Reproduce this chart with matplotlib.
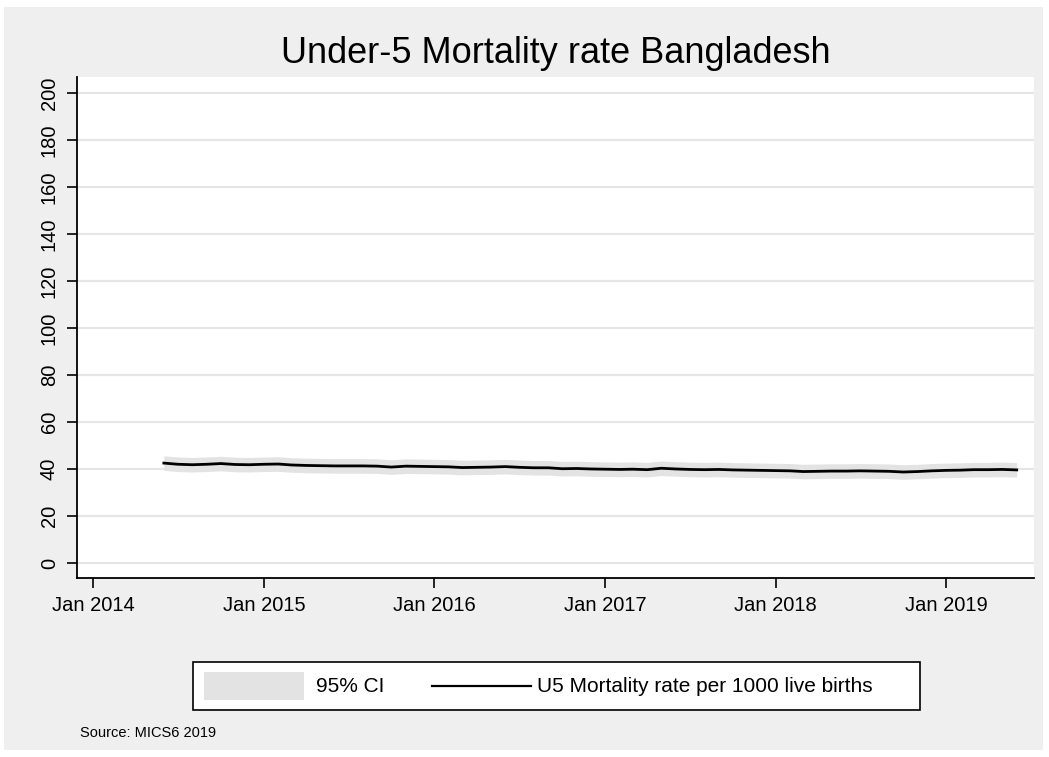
import numpy as np
import pandas as pd
import matplotlib
matplotlib.use("Agg")
import matplotlib.pyplot as plt
import matplotlib.dates as mdates
from matplotlib.patches import Rectangle
from matplotlib.lines import Line2D

plt.rcParams["font.family"] = ["Liberation Sans", "DejaVu Sans"]

# monthly estimates, Jun 2014 - Jun 2019
months = pd.date_range("2014-06-01", "2019-06-01", freq="MS")
u5mr = [42.5, 42.0, 41.8, 42.0, 42.3, 41.9, 41.8,
        42.0, 42.1, 41.7, 41.5, 41.4, 41.3, 41.3, 41.3, 41.2, 40.8, 41.2, 41.1,
        41.0, 40.9, 40.6, 40.7, 40.8, 41.0, 40.7, 40.5, 40.5, 40.1, 40.2, 40.0,
        39.9, 39.8, 39.9, 39.7, 40.3, 40.0, 39.8, 39.7, 39.8, 39.6, 39.5, 39.4,
        39.3, 39.2, 38.9, 39.0, 39.1, 39.1, 39.2, 39.1, 39.0, 38.7, 38.9, 39.2,
        39.4, 39.5, 39.7, 39.7, 39.8, 39.6]
ci_lower = [39.4, 38.9, 38.7, 38.9, 39.2, 38.8, 38.7,
            38.9, 39.0, 38.6, 38.4, 38.3, 38.2, 38.2, 38.2, 38.1, 37.7, 38.1, 38.0,
            37.9, 37.8, 37.5, 37.6, 37.7, 37.9, 37.6, 37.4, 37.4, 37.0, 37.1, 36.9,
            36.8, 36.7, 36.8, 36.6, 37.2, 36.9, 36.7, 36.6, 36.7, 36.5, 36.4, 36.3,
            36.2, 36.1, 35.8, 35.9, 36.0, 36.0, 36.1, 36.0, 35.9, 35.6, 35.8, 36.1,
            36.3, 36.4, 36.6, 36.6, 36.7, 36.5]
ci_upper = [45.6, 45.1, 44.9, 45.1, 45.4, 45.0, 44.9,
            45.1, 45.2, 44.8, 44.6, 44.5, 44.4, 44.4, 44.4, 44.3, 43.9, 44.3, 44.2,
            44.1, 44.0, 43.7, 43.8, 43.9, 44.1, 43.8, 43.6, 43.6, 43.2, 43.3, 43.1,
            43.0, 42.9, 43.0, 42.8, 43.4, 43.1, 42.9, 42.8, 42.9, 42.7, 42.6, 42.5,
            42.4, 42.3, 42.0, 42.1, 42.2, 42.2, 42.3, 42.2, 42.1, 41.8, 42.0, 42.3,
            42.5, 42.6, 42.8, 42.8, 42.9, 42.7]

y_ticks = list(range(0, 201, 20))
x_ticks = pd.to_datetime(["2014-01-01", "2015-01-01", "2016-01-01",
                          "2017-01-01", "2018-01-01", "2019-01-01"])

ci_color = "#e3e3e3"

W, H = 1049, 757
fig = plt.figure(figsize=(W / 100, H / 100), dpi=100, facecolor="white")
fig.patches.append(Rectangle((4 / W, 1 - 750 / H), 1039 / W, 743 / H,
                             transform=fig.transFigure, facecolor="#efefef",
                             edgecolor="none", zorder=-5))

ax = fig.add_axes([77 / W, 1 - 578 / H, 957 / W, 501 / H])
ax.set_zorder(2)
ax.set_facecolor("white")

ax.fill_between(months, ci_lower, ci_upper, color=ci_color, linewidth=0, zorder=2)
ax.plot(months, u5mr, color="black", linewidth=2, zorder=3)

ax.set_ylim(-6.4, 206.8)
ax.set_xlim(pd.Timestamp("2013-11-27"), pd.Timestamp("2019-07-08"))

ax.set_yticks(y_ticks)
ax.set_yticklabels([str(v) for v in y_ticks], rotation=90, va="center")
ax.set_xticks(x_ticks)
ax.xaxis.set_major_formatter(mdates.DateFormatter("%b %Y"))
ax.tick_params(axis="both", labelsize=14.5, length=7, width=1.2, color="black")
ax.tick_params(axis="y", pad=6)
ax.tick_params(axis="x", pad=6)

ax.grid(axis="y", color="#e6e6e6", linewidth=1.6, zorder=1)
ax.set_axisbelow(True)
for side in ["top", "right"]:
    ax.spines[side].set_visible(False)
ax.spines["left"].set_linewidth(1.3)
ax.spines["bottom"].set_linewidth(1.3)

fig.text(555.5 / W, 1 - 63 / H, "Under-5 Mortality rate Bangladesh",
         ha="center", va="baseline", fontsize=26)

# legend drawn as a Stata-style box with fixed-width key columns
def px(x, y):
    return x / W, 1 - y / H

fig.add_artist(Rectangle(px(193, 710), 727 / W, 48 / H, transform=fig.transFigure,
                         facecolor="white", edgecolor="black", linewidth=1.2))
fig.add_artist(Rectangle(px(204, 700), 100 / W, 28 / H, transform=fig.transFigure,
                         facecolor=ci_color, edgecolor="none"))
fig.add_artist(Line2D([432 / W, 531 / W], [1 - 686 / H, 1 - 686 / H],
                      transform=fig.transFigure, color="black", linewidth=1.6))
fig.text(*px(316, 686), "95% CI", ha="left", va="center", fontsize=15)
fig.text(*px(537, 686), "U5 Mortality rate per 1000 live births",
         ha="left", va="center", fontsize=15)

fig.text(80 / W, 1 - 737 / H, "Source: MICS6 2019", ha="left", va="baseline",
         fontsize=10.5)

fig.savefig("out.png", dpi=100, facecolor=fig.get_facecolor())
